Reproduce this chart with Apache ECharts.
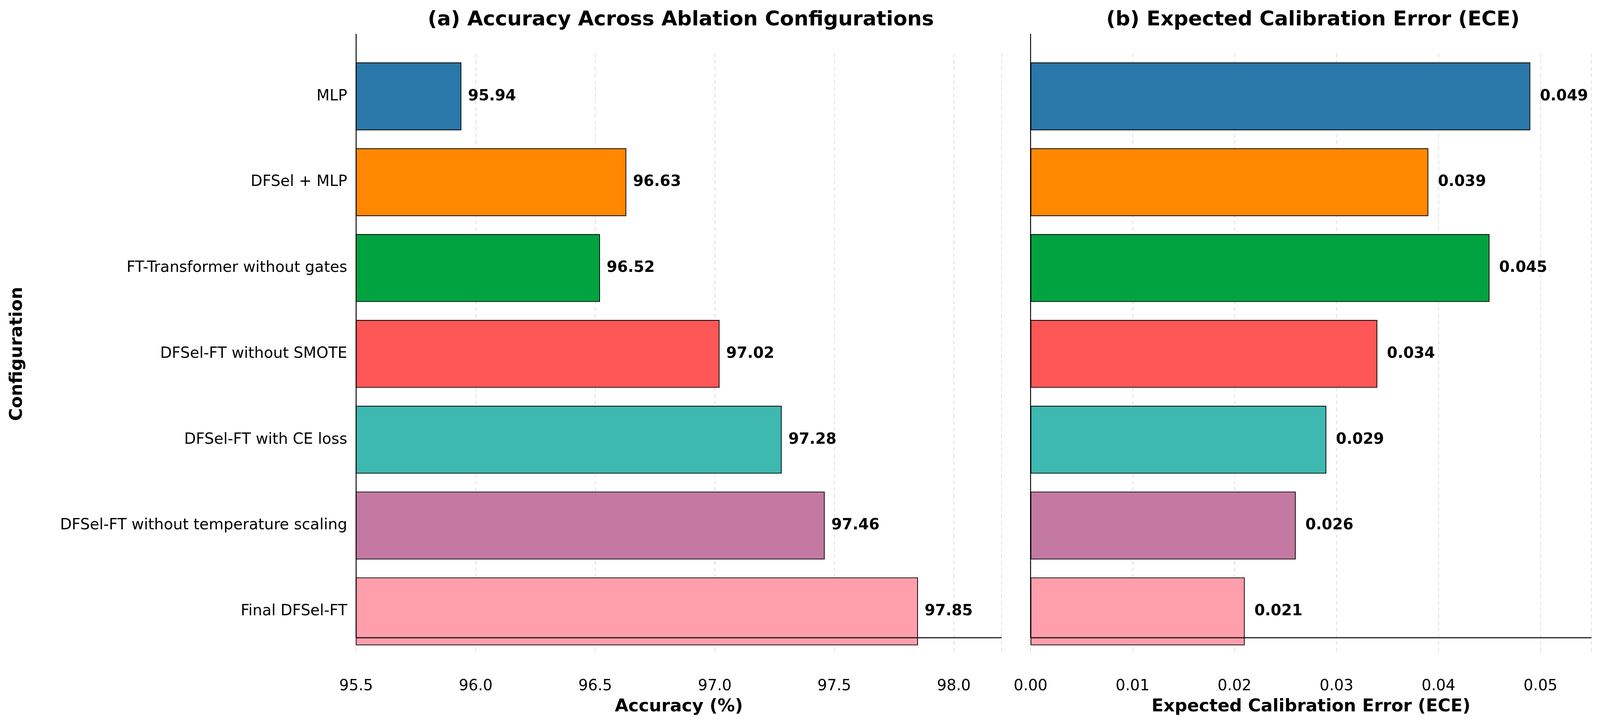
<!DOCTYPE html>
<html>
<head>
<meta charset="utf-8">
<script src="https://cdn.jsdelivr.net/npm/echarts@6/dist/echarts.min.js"></script>
<style>html,body{margin:0;background:#fff;overflow:hidden}#chart{width:100vw;height:100vh}</style>
</head>
<body>
<div id="chart"></div>
<script>
// categories listed top to bottom
var configs = ['MLP', 'DFSel + MLP', 'FT-Transformer without gates', 'DFSel-FT without SMOTE',
  'DFSel-FT with CE loss', 'DFSel-FT without temperature scaling', 'Final DFSel-FT'];
var accuracy = [95.94, 96.63, 96.52, 97.02, 97.28, 97.46, 97.85];
var ece = [0.049, 0.039, 0.045, 0.034, 0.029, 0.026, 0.021];
var colors = ['#2a78a9', '#ff8800', '#00a33f', '#ff5656', '#3db9b2', '#c479a3', '#ff9fab'];

var font = 'DejaVu Sans';
// layout designed for 4313 wide; scale to the real viewport
var s = window.innerWidth / 4313;
function px(v) { return v * s; }

function barData(vals) {
  return vals.map(function (v, i) {
    return { value: v, itemStyle: { color: colors[i] } };
  });
}

function xAxisDef(idx, min, max, interval, name, digits) {
  return {
    gridIndex: idx, type: 'value', min: min, max: max, interval: interval,
    axisLine: { show: false }, axisTick: { show: false },
    axisLabel: { margin: px(66), fontSize: px(41), color: '#000', fontFamily: font, showMaxLabel: false,
      formatter: function (v) { return v.toFixed(digits); } },
    splitLine: { show: true, lineStyle: { type: [px(10), px(8)], color: '#dcdcdc', width: px(2) } },
    name: name, nameLocation: 'middle', nameGap: px(118),
    nameTextStyle: { fontSize: px(47), fontWeight: 'bold', color: '#000', fontFamily: font }
  };
}

function spine(x1, y1, x2, y2) {
  return { type: 'line', z: 100, shape: { x1: px(x1), y1: px(y1), x2: px(x2), y2: px(y2) },
    style: { stroke: '#000', lineWidth: px(2.5) } };
}

var chart = echarts.init(document.getElementById('chart'));
chart.setOption({
  backgroundColor: '#fff',
  animation: false,
  title: [
    { text: '(a) Accuracy Across Ablation Configurations', left: px(1830), top: px(22), textAlign: 'center',
      textStyle: { fontSize: px(55), fontWeight: 'bold', color: '#000', fontFamily: font } },
    { text: '(b) Expected Calibration Error (ECE)', left: px(3534), top: px(22), textAlign: 'center',
      textStyle: { fontSize: px(55), fontWeight: 'bold', color: '#000', fontFamily: font } }
  ],
  grid: [
    { left: px(960), width: px(1740), top: px(144), bottom: px(196) },
    { left: px(2778), width: px(1512), top: px(144), bottom: px(196) }
  ],
  xAxis: [
    xAxisDef(0, 95.5, 98.2, 0.5, 'Accuracy (%)', 1),
    xAxisDef(1, 0, 0.055, 0.01, 'Expected Calibration Error (ECE)', 2)
  ],
  yAxis: [
    { gridIndex: 0, type: 'category', inverse: true, data: configs,
      axisLine: { show: false }, axisTick: { show: false },
      axisLabel: { fontSize: px(41), color: '#000', fontFamily: font, margin: px(24) },
      name: 'Configuration', nameLocation: 'middle', nameGap: px(890), nameRotate: 90,
      nameTextStyle: { fontSize: px(47), fontWeight: 'bold', color: '#000', fontFamily: font } },
    { gridIndex: 1, type: 'category', inverse: true, data: configs,
      axisLine: { show: false }, axisTick: { show: false }, axisLabel: { show: false } }
  ],
  series: [
    { type: 'bar', xAxisIndex: 0, yAxisIndex: 0, data: barData(accuracy), barCategoryGap: '21%',
      itemStyle: { borderColor: '#000', borderWidth: px(2) },
      label: { show: true, position: 'right', distance: px(18), fontSize: px(41), fontWeight: 'bold',
        color: '#000', fontFamily: font, formatter: function (p) { return p.value.toFixed(2); } } },
    { type: 'bar', xAxisIndex: 1, yAxisIndex: 1, data: barData(ece), barCategoryGap: '21%',
      itemStyle: { borderColor: '#000', borderWidth: px(2) },
      label: { show: true, position: 'right', distance: px(26), fontSize: px(41), fontWeight: 'bold',
        color: '#000', fontFamily: font, formatter: function (p) { return p.value.toFixed(3); } } }
  ],
  graphic: [
    spine(960, 91, 960, 1719), spine(960, 1719, 2700, 1719),
    spine(2778, 91, 2778, 1719), spine(2778, 1719, 4290, 1719)
  ]
});
</script>
</body>
</html>
